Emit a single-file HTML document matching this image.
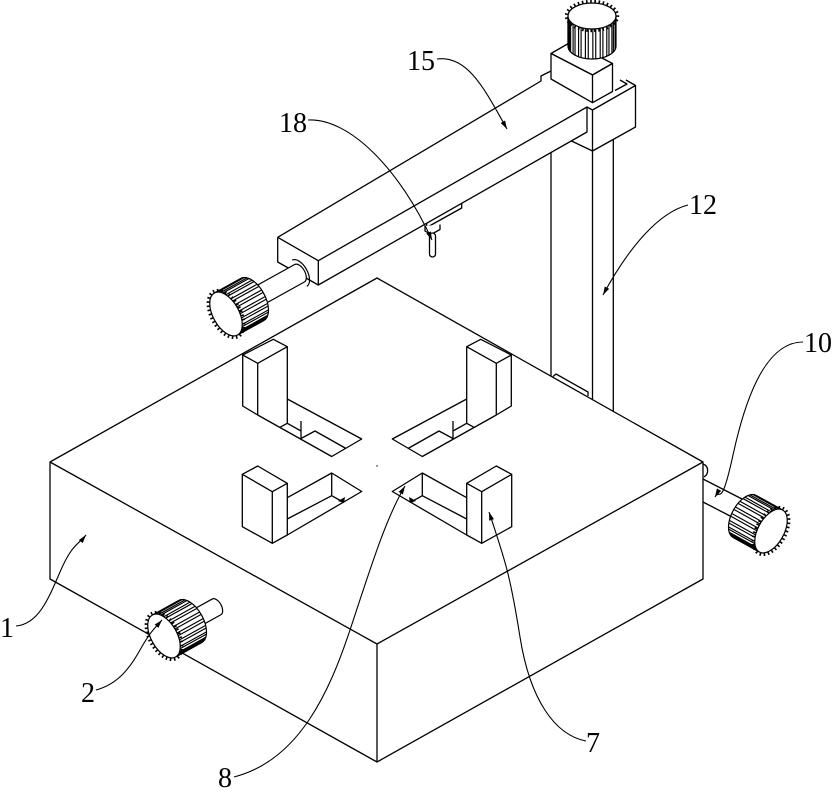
<!DOCTYPE html>
<html>
<head>
<meta charset="utf-8">
<style>
html,body{margin:0;padding:0;background:#fff;width:839px;height:806px;overflow:hidden}
svg{display:block}
text{font-family:"Liberation Serif",serif;font-size:28px;fill:#000}
</style>
</head>
<body>
<svg width="839" height="806" viewBox="0 0 839 806" xmlns="http://www.w3.org/2000/svg">
<defs>
  <marker id="ah" viewBox="0 0 10 6" refX="10" refY="3" markerWidth="9" markerHeight="5" orient="auto" markerUnits="userSpaceOnUse">
    <path d="M0,0 L10,3 L0,6 z" fill="#000"/>
  </marker>
  <g id="gear" stroke="#000" fill="none">
    <path d="M0,-24 L30,-24 A13,24 0 0 1 30,24 L0,24 Z" fill="#fff" stroke-width="1.2"/>
    <path stroke-width="1.15" d="M2.03,-23.7h30M3.58,-23.07h30M5.9,-21.38h30M7.27,-19.9h30M9.19,-16.97h30M10.24,-14.78h30M11.58,-10.9h30M12.22,-8.21h30M12.84,-3.75h30M12.99,-0.84h30M12.84,3.75h30M12.5,6.61h30M11.58,10.9h30M10.78,13.42h30M9.19,16.97h30M8,18.91h30M5.9,21.38h30M4.45,22.55h30M2.03,23.7h30M0.45,23.99h30"/>
    <ellipse rx="14.8" ry="25.8" stroke-width="2.8" stroke-dasharray="1.6 2.6"/>
    <ellipse rx="13" ry="24" fill="#fff" stroke-width="1.2"/>
  </g>
</defs>

<g stroke="#000" stroke-width="1.3" fill="none" stroke-linejoin="round">
  <path d="M50,462 L377,278 L703,462 L377,644 Z M50,462 V579 L377,762 L703,579 V462 M377,644 V762"/>

  <path d="M551,152.6 V376 M592.5,151 V399.6 M613.3,139.5 V411.4"/>
  <path d="M553,376.5 L556,374 L588,392 V396"/>

  <path d="M242.7,355 L273.3,339.3 L287.3,346.7 L257.7,363.3 Z"/>
  <path d="M242.7,355 V406 L257.7,415 L331.7,456.5 L361.7,439 L287.3,399"/>
  <path d="M257.7,363.3 V415 M287.3,346.7 V423.3 L280,427.3 M301,421 V438.5 L315,431 L346,448.5 M287.3,423.3 L301,431"/>

  <path d="M511.3,355 L480.7,339.3 L466.7,346.7 L496.3,363.3 Z"/>
  <path d="M511.3,355 V406 L496.3,415 L422.3,456.5 L392.3,439 L466.7,399"/>
  <path d="M496.3,363.3 V415 M466.7,346.7 V423.3 L474,427.3 M453,421 V438.5 L439,431 L408,448.5 M466.7,423.3 L453,431"/>

  <path d="M242.3,474.3 L257.7,466 L287.3,483.3 L272.3,491.7 Z"/>
  <path d="M242.3,474.3 V526.7 L272.3,543.3 L287.3,535 V483.3 M272.3,491.7 V543.3"/>
  <path d="M287.3,497.7 L331.7,473 L361.7,491.5 L287.3,535 M331.7,473 V495.7 L343,502 M287.3,519 L331.7,495.7"/>

  <path d="M511.7,474.3 L496.3,466 L466.7,483.3 L481.7,491.7 Z"/>
  <path d="M511.7,474.3 V526.7 L481.7,543.3 L466.7,535 V483.3 M481.7,491.7 V543.3"/>
  <path d="M466.7,497.7 L422.3,473 L392.3,491.5 L466.7,535 M422.3,473 V495.7 L411,502 M466.7,519 L422.3,495.7"/>
</g>
<path d="M338,501 L345,497 L344,503 Z M416,501 L409,497 L410,503 Z" fill="#000"/>
<circle cx="377" cy="466" r="0.7" fill="#000"/>

<g transform="translate(164,636) rotate(-29)" stroke="#000" stroke-width="1.2">
  <path d="M25,-9 L60,-9 A5,9 0 0 1 60,9 L25,9 Z" fill="#fff"/>
  <use href="#gear"/>
</g>

<g stroke="#000" stroke-width="1.3" fill="none">
  <path d="M703,464 C709,466 709,474 704,477"/>
  <path d="M703,479 L742,499 M703,502 L733,517.5"/>
</g>
<g transform="translate(771,531) scale(-1,1) rotate(-29)">
  <use href="#gear"/>
</g>

<g stroke="#000" stroke-width="1.3" fill="none" stroke-linejoin="round">
  <path d="M277.7,237.3 L541,81 V76 L551,71"/>
  <path d="M277.7,237.3 L318.3,260.7 L587,107 V132 L318.3,285 V260.7"/>
  <path d="M277.7,237.3 V262 L318.3,285"/>
  <path d="M426.7,223.5 V227.5 L461.7,208 V203.4"/>
  <path d="M425,226 V231 L431,234.5 L440,229.5 V224.5" fill="#fff"/>
  <rect x="429.5" y="233" width="6" height="24" rx="3" fill="#fff"/>
</g>

<g transform="translate(226,314) rotate(-29)" stroke="#000" stroke-width="1.2" fill="none">
  <path d="M84,-15 A8,15 0 0 1 84,15"/>
  <path d="M25,-10 L84,-10 A5.5,10 0 0 1 84,10 L25,10 Z" fill="#fff"/>
  <use href="#gear"/>
</g>

<g stroke="#000" stroke-width="1.3" fill="none" stroke-linejoin="round">
  <path d="M587,107 L592.5,110 L635.5,85.5 V127 L592.5,151 V110"/>
  <path d="M571.5,141 L592.5,151 M635.5,85.5 L626,80 M615,90.5 L627,84 L620,80"/>
  <path d="M551,53.5 L571,42 L612.5,63.5 L592.5,75 Z" fill="#fff"/>
  <path d="M551,53.5 V79 L592.5,102.7 L612.5,91.5 V63.5 L592.5,75 Z" fill="#fff"/>
  <path d="M592.5,75 V102.7"/>
</g>
<g transform="translate(592,16) rotate(90)">
  <use href="#gear"/>
</g>

<g stroke="#000" stroke-width="1.1" fill="none">
  <path d="M437,59 C468,55 485,90 507,129" marker-end="url(#ah)"/>
  <path d="M308,120 C350,118 400,170 432,240" marker-end="url(#ah)"/>
  <path d="M688,205 C660,212 630,245 603,295" marker-end="url(#ah)"/>
  <path d="M803,342 C765,342 745,400 733,455 S720,488 715,497" marker-end="url(#ah)"/>
  <path d="M16,626 C38,624 48,600 60,572 S78,545 86,535" marker-end="url(#ah)"/>
  <path d="M96,690 C118,684 130,668 140,650 S155,628 162,620" marker-end="url(#ah)"/>
  <path d="M234,777 C300,760 330,690 350,630 S385,520 405,486" marker-end="url(#ah)"/>
  <path d="M586,741 C555,735 530,700 520,637 S505,560 489,512" marker-end="url(#ah)"/>
</g>

<text x="407" y="70">15</text>
<text x="279" y="132">18</text>
<text x="689" y="214">12</text>
<text x="804" y="352">10</text>
<text x="0" y="637">1</text>
<text x="81" y="702">2</text>
<text x="218" y="787">8</text>
<text x="586" y="752">7</text>
</svg>
</body>
</html>
